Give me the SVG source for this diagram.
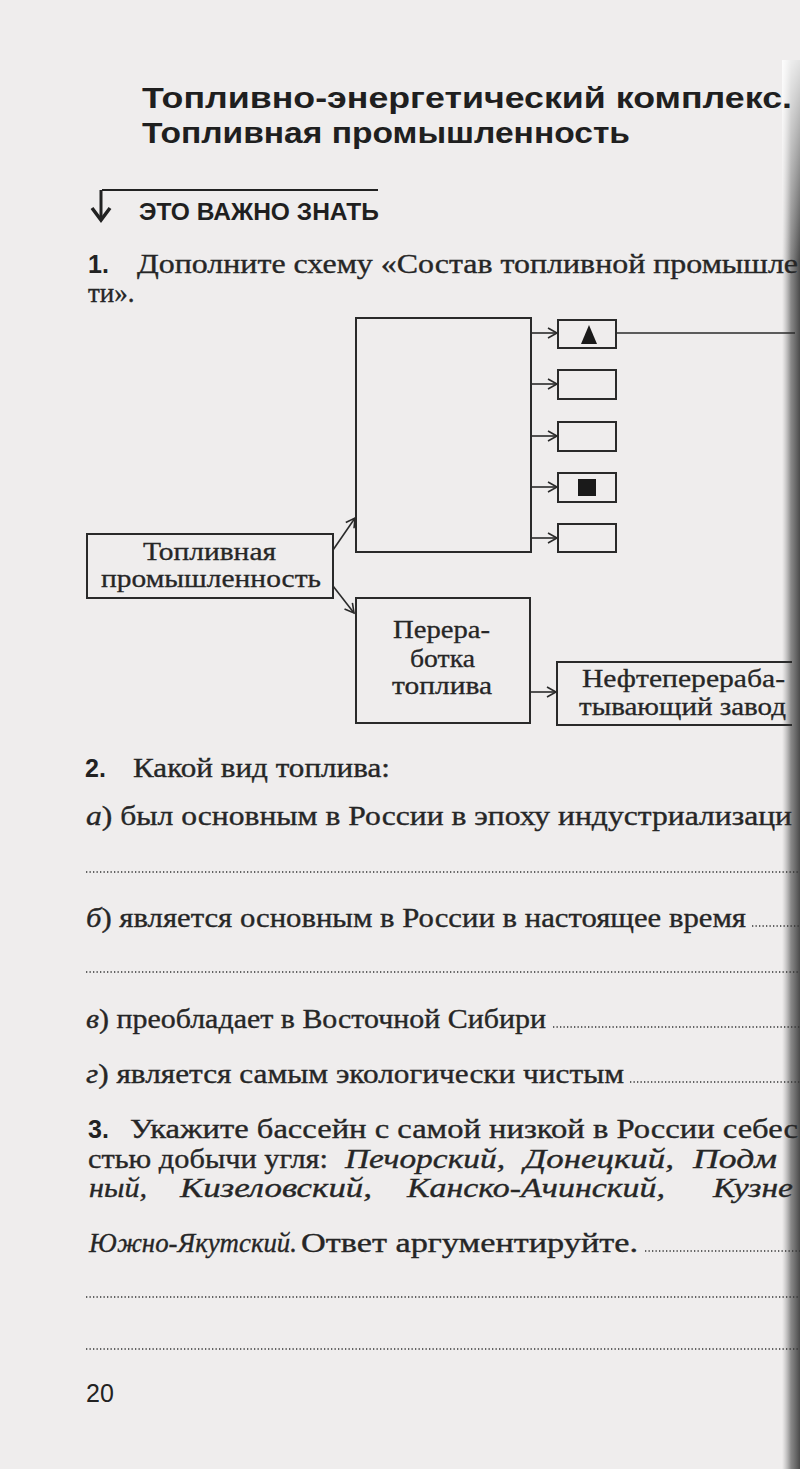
<svg xmlns="http://www.w3.org/2000/svg" width="800" height="1469" viewBox="0 0 800 1469">
<defs>
<style>
.title{font-family:"Liberation Sans","DejaVu Sans",sans-serif;font-weight:bold;fill:#1f1f1f}
.num{font-family:"Liberation Sans","DejaVu Sans",sans-serif;font-weight:bold;font-size:25px;fill:#222}
.body{font-family:"Liberation Serif","DejaVu Serif",serif;font-size:27px;fill:#262626;stroke:#262626;stroke-width:0.35}
.box{font-family:"Liberation Serif","DejaVu Serif",serif;font-size:25px;fill:#262626;stroke:#262626;stroke-width:0.3}
.it{font-style:italic}
.node{fill:none;stroke:#2a2a2a;stroke-width:2}
.conn{fill:none;stroke:#2a2a2a;stroke-width:1.6}
.dots{stroke:#333;stroke-width:1.4;stroke-dasharray:1.3 2.2}
</style>
<marker id="open" markerWidth="12" markerHeight="12" refX="10" refY="6" orient="auto" markerUnits="userSpaceOnUse">
<path d="M1,1 L10,6 L1,11" fill="none" stroke="#2a2a2a" stroke-width="1.6"/>
</marker>
<linearGradient id="shade" x1="0" y1="0" x2="1" y2="0">
<stop offset="0" stop-color="#9a9a9a" stop-opacity="0"/>
<stop offset="0.5" stop-color="#6e6e6e" stop-opacity="0.8"/>
<stop offset="1" stop-color="#4a4a4a"/>
</linearGradient>
<linearGradient id="fade" x1="0" y1="0" x2="0" y2="1">
<stop offset="0" stop-color="#fff" stop-opacity="0.85"/>
<stop offset="1" stop-color="#fff" stop-opacity="0"/>
</linearGradient>
</defs>
<rect x="0" y="0" width="800" height="1469" fill="#efeded"/>
<rect x="782" y="60" width="18" height="1409" fill="url(#shade)"/>
<rect x="782" y="60" width="18" height="200" fill="url(#fade)"/>

<!-- Title -->
<text class="title" x="142" y="108" font-size="30" textLength="650" lengthAdjust="spacingAndGlyphs">Топливно-энергетический комплекс.</text>
<text class="title" x="142" y="143" font-size="30" textLength="488" lengthAdjust="spacingAndGlyphs">Топливная промышленность</text>
<line x1="102" y1="190" x2="378" y2="190" stroke="#222" stroke-width="2"/>
<line x1="101" y1="190" x2="101" y2="219" stroke="#222" stroke-width="3"/>
<path d="M92,208 L101,220 L110,208" fill="none" stroke="#222" stroke-width="3.5"/>
<text class="title" x="139" y="220" font-size="23" textLength="240" lengthAdjust="spacingAndGlyphs">ЭТО ВАЖНО ЗНАТЬ</text>

<!-- Task 1 -->
<text class="num" x="88" y="273">1.</text>
<text class="body" x="137" y="273" textLength="661" lengthAdjust="spacingAndGlyphs">Дополните  схему  «Состав  топливной  промышле</text>
<text class="body" x="88" y="302">ти».</text>

<!-- Connectors -->
<g id="connectors">
<line class="conn" x1="333" y1="550" x2="355" y2="518" marker-end="url(#open)"/>
<line class="conn" x1="333" y1="586" x2="354" y2="613" marker-end="url(#open)"/>
<line class="conn" x1="531" y1="333" x2="557" y2="333" marker-end="url(#open)"/>
<line class="conn" x1="531" y1="384" x2="557" y2="384" marker-end="url(#open)"/>
<line class="conn" x1="531" y1="436" x2="557" y2="436" marker-end="url(#open)"/>
<line class="conn" x1="531" y1="487" x2="557" y2="487" marker-end="url(#open)"/>
<line class="conn" x1="531" y1="538" x2="557" y2="538" marker-end="url(#open)"/>
<line class="conn" x1="530" y1="692" x2="556" y2="692" marker-end="url(#open)"/>
<line class="conn" x1="616" y1="333" x2="795" y2="333"/>
</g>

<!-- Nodes -->
<g id="node-fuel-industry">
<rect class="node" x="87" y="534" width="246" height="64"/>
<text class="box" x="143" y="560" textLength="133" lengthAdjust="spacingAndGlyphs">Топливная</text>
<text class="box" x="101" y="587" textLength="220" lengthAdjust="spacingAndGlyphs">промышленность</text>
</g>
<g id="node-extraction">
<rect class="node" x="356" y="318" width="175" height="234"/>
</g>
<g id="node-b1">
<rect class="node" x="558" y="320" width="58" height="28"/>
<path d="M589,325 L597,344 L581,344 Z" fill="#1a1a1a"/>
</g>
<g id="node-b2"><rect class="node" x="558" y="370" width="58" height="29"/></g>
<g id="node-b3"><rect class="node" x="558" y="422" width="58" height="29"/></g>
<g id="node-b4">
<rect class="node" x="558" y="473" width="58" height="29"/>
<rect x="578" y="479" width="18" height="17" fill="#1a1a1a"/>
</g>
<g id="node-b5"><rect class="node" x="558" y="524" width="58" height="28"/></g>
<g id="node-processing">
<rect class="node" x="356" y="598" width="174" height="125"/>
<text class="box" x="393" y="638" textLength="97" lengthAdjust="spacingAndGlyphs">Перера-</text>
<text class="box" x="410" y="667" textLength="65" lengthAdjust="spacingAndGlyphs">ботка</text>
<text class="box" x="392" y="694" textLength="100" lengthAdjust="spacingAndGlyphs">топлива</text>
</g>
<g id="node-refinery">
<path class="node" d="M792,662 L557,662 L557,725 L792,725"/>
<text class="box" x="582" y="687" textLength="203" lengthAdjust="spacingAndGlyphs">Нефтеперераба-</text>
<text class="box" x="579" y="715" textLength="207" lengthAdjust="spacingAndGlyphs">тывающий завод</text>
</g>

<!-- Task 2 -->
<text class="num" x="85" y="777">2.</text>
<text class="body" x="133" y="777" textLength="257" lengthAdjust="spacingAndGlyphs">Какой вид топлива:</text>
<text class="body" x="86" y="825" textLength="706" lengthAdjust="spacingAndGlyphs"><tspan class="it">а</tspan>) был основным в России в эпоху индустриализаци</text>
<line class="dots" x1="86" y1="872" x2="800" y2="872"/>
<text class="body" x="86" y="927" textLength="660" lengthAdjust="spacingAndGlyphs"><tspan class="it">б</tspan>) является основным в России в настоящее время</text>
<line class="dots" x1="752" y1="926" x2="800" y2="926"/>
<line class="dots" x1="86" y1="972" x2="800" y2="972"/>
<text class="body" x="86" y="1028" textLength="460" lengthAdjust="spacingAndGlyphs"><tspan class="it">в</tspan>) преобладает в Восточной Сибири</text>
<line class="dots" x1="553" y1="1027" x2="800" y2="1027"/>
<text class="body" x="86" y="1083" textLength="538" lengthAdjust="spacingAndGlyphs"><tspan class="it">г</tspan>) является самым экологически чистым</text>
<line class="dots" x1="630" y1="1082" x2="800" y2="1082"/>

<!-- Task 3 -->
<text class="num" x="88" y="1138">3.</text>
<text class="body" x="130" y="1138" textLength="668" lengthAdjust="spacingAndGlyphs">Укажите бассейн с самой низкой в России себес</text>
<text class="body" x="88" y="1168" textLength="240" lengthAdjust="spacingAndGlyphs">стью добычи угля:</text>
<text class="body it" x="345" y="1168" textLength="160" lengthAdjust="spacingAndGlyphs">Печорский,</text>
<text class="body it" x="524" y="1168" textLength="150" lengthAdjust="spacingAndGlyphs">Донецкий,</text>
<text class="body it" x="693" y="1168" textLength="84" lengthAdjust="spacingAndGlyphs">Подм</text>
<text class="body it" x="89" y="1197" textLength="58" lengthAdjust="spacingAndGlyphs">ный,</text>
<text class="body it" x="180" y="1197" textLength="192" lengthAdjust="spacingAndGlyphs">Кизеловский,</text>
<text class="body it" x="407" y="1197" textLength="258" lengthAdjust="spacingAndGlyphs">Канско-Ачинский,</text>
<text class="body it" x="713" y="1197" textLength="80" lengthAdjust="spacingAndGlyphs">Кузне</text>
<text class="body it" x="89" y="1252" textLength="208" lengthAdjust="spacingAndGlyphs">Южно-Якутский.</text>
<text class="body" x="301" y="1252" textLength="337" lengthAdjust="spacingAndGlyphs">Ответ аргументируйте.</text>
<line class="dots" x1="645" y1="1251" x2="800" y2="1251"/>
<line class="dots" x1="86" y1="1297" x2="800" y2="1297"/>
<line class="dots" x1="86" y1="1349" x2="800" y2="1349"/>

<text x="86" y="1402" font-family="Liberation Sans Narrow,Liberation Sans,sans-serif" font-size="25" fill="#222">20</text>
</svg>
